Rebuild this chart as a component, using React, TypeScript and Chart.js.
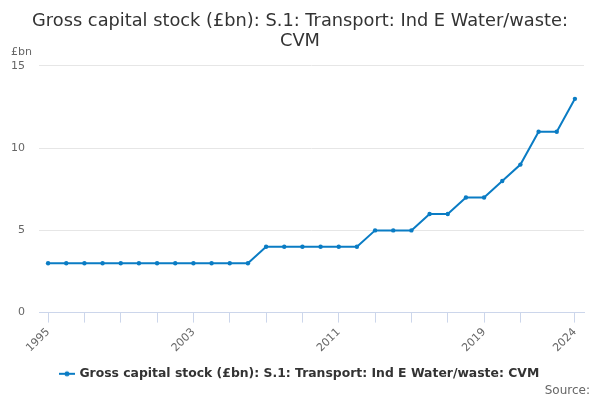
import { useEffect, useRef } from 'react'
import { Chart, registerables } from 'chart.js'
Chart.register(...registerables)

const years = [
  1995, 1996, 1997, 1998, 1999, 2000, 2001, 2002, 2003, 2004,
  2005, 2006, 2007, 2008, 2009, 2010, 2011, 2012, 2013, 2014,
  2015, 2016, 2017, 2018, 2019, 2020, 2021, 2022, 2023, 2024,
]
const stock = [
  3, 3, 3, 3, 3, 3, 3, 3, 3, 3,
  3, 3, 4, 4, 4, 4, 4, 4, 5, 5,
  5, 6, 6, 7, 7, 8, 9, 11, 11, 13,
]
// tick marks on the x axis, and the ones that get a label
const tickYears = [1995, 1997, 1999, 2001, 2003, 2005, 2007, 2009, 2011, 2013, 2015, 2017, 2019, 2021, 2024]
const shownYears = [1995, 2003, 2011, 2019, 2024]
const seriesName = 'Gross capital stock (£bn): S.1: Transport: Ind E Water/waste: CVM'
const FONT = "'DejaVu Sans', Verdana, sans-serif"
const BLUE = '#0a7cc4'

// legend marker: short line with a dot in the middle
const makeMarker = () => {
  const c = document.createElement('canvas')
  c.width = 16
  c.height = 8
  const g = c.getContext('2d')!
  g.strokeStyle = BLUE
  g.lineWidth = 2
  g.beginPath()
  g.moveTo(0, 4)
  g.lineTo(16, 4)
  g.stroke()
  g.fillStyle = BLUE
  g.beginPath()
  g.arc(8, 4, 2.5, 0, Math.PI * 2)
  g.fill()
  return c
}

const extras = {
  id: 'extras',
  afterDraw(chart: any) {
    const ctx = chart.ctx
    ctx.save()
    ctx.fillStyle = '#666666'
    ctx.font = `11px ${FONT}`
    ctx.textAlign = 'left'
    ctx.textBaseline = 'middle'
    ctx.fillText('£bn', 11, 52)
    ctx.font = `12px ${FONT}`
    ctx.textAlign = 'right'
    ctx.fillText('Source:', 590, 391)
    ctx.restore()
  },
}

const App = () => {
  const canvas = useRef<any>(null)
  useEffect(() => {
    const marker = makeMarker()
    const chart = new Chart(canvas.current, {
      type: 'line',
      data: {
        datasets: [
          {
            label: seriesName,
            data: years.map((y, i) => ({ x: y, y: stock[i] })),
            borderColor: BLUE,
            backgroundColor: BLUE,
            borderWidth: 2,
            pointRadius: 2.2,
            pointBorderWidth: 0,
            pointHoverRadius: 3,
            tension: 0,
          },
        ],
      },
      options: {
        responsive: false,
        animation: false,
        layout: { padding: { left: 10, right: 10, top: 0, bottom: 10 } },
        scales: {
          x: {
            type: 'linear',
            min: 1994.5,
            max: 2024.5,
            afterBuildTicks: (s: any) => {
              s.ticks = tickYears.map((v) => ({ value: v }))
            },
            grid: {
              drawOnChartArea: false,
              tickLength: 10,
              color: '#ccd6eb',
            },
            border: { color: '#ccd6eb' },
            ticks: {
              autoSkip: false,
              maxRotation: 45,
              minRotation: 45,
              color: '#666666',
              font: { family: FONT, size: 11 },
              callback: (v: any) => (shownYears.includes(v) ? String(v) : ''),
            },
            afterFit: (s: any) => {
              s.height = 45
            },
          },
          y: {
            min: 0,
            max: 15,
            ticks: {
              stepSize: 5,
              color: '#666666',
              font: { family: FONT, size: 11 },
              padding: 14,
            },
            grid: { color: '#e6e6e6', drawTicks: false },
            border: { display: false },
            afterFit: (s: any) => {
              s.width = 29
            },
          },
          // empty spacer on the right so the plot sits where the original does
          yRight: {
            type: 'linear',
            position: 'right',
            min: 0,
            max: 15,
            grid: { display: false },
            ticks: { display: false },
            border: { display: false },
            afterFit: (s: any) => {
              s.width = 6
            },
          },
        },
        plugins: {
          title: {
            display: true,
            text: ['Gross capital stock (£bn): S.1: Transport: Ind E Water/waste:', 'CVM'],
            color: '#333333',
            font: { family: FONT, size: 17.8, weight: 'normal', lineHeight: 1.15 },
            padding: { top: 11, bottom: 14 },
          },
          legend: {
            position: 'bottom',
            labels: {
              usePointStyle: true,
              pointStyle: marker,
              color: '#333333',
              font: { family: FONT, size: 12.4, weight: 'bold' },
              padding: 10,
            },
          },
          tooltip: { enabled: false },
        },
      },
      plugins: [extras],
    } as any)
    return () => chart.destroy()
  }, [])
  return (
    <div style={{ position: 'absolute', left: 0, top: 0, width: 600, height: 400, background: '#fff' }}>
      <canvas ref={canvas} width={600} height={400}></canvas>
    </div>
  )
}

export default App
